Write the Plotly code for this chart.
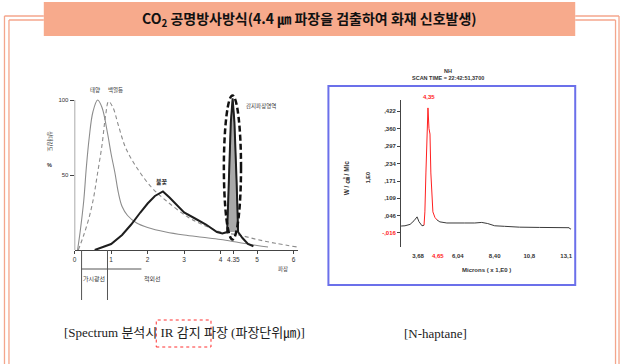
import plotly.graph_objects as go

W, H = 622, 364

# ---------------- data: left chart (emission spectra, wavelength in um) ----------------
sun_x = [0.08, 0.15, 0.25, 0.32, 0.40, 0.50, 0.63, 0.75, 0.90, 1.00, 1.10, 1.20, 1.30, 1.45, 1.70,
         2.00, 2.50, 3.00, 3.50, 4.00, 4.50, 5.00, 5.30]
sun_y = [0, 12, 33, 55, 75, 92, 100, 95, 78, 64, 52, 38, 29, 23, 18,
         15, 12, 10, 8.5, 7, 5, 3, 2]

lamp_x = [0.10, 0.25, 0.40, 0.52, 0.62, 0.75, 0.85, 0.93, 1.05, 1.20, 1.40, 1.70, 2.10, 2.50,
          3.10, 3.50, 4.00, 4.50, 5.00, 5.50, 6.10]
lamp_y = [0, 10, 22, 35, 50, 70, 90, 99, 95, 83, 68, 55, 42, 33,
          22, 17, 12, 10, 7, 4.5, 2]

flame_x = [0.55, 0.80, 1.00, 1.30, 1.55, 1.80, 2.00, 2.20, 2.42, 2.60, 2.80, 3.00, 3.30, 3.60,
           3.90, 4.05, 4.18, 4.22, 4.28, 4.33, 4.38, 4.44, 4.48, 4.60, 4.75, 4.90]
flame_y = [0, 2, 4, 10, 17, 25, 31, 36, 39, 35, 30, 25, 21, 17,
           12, 11, 12, 45, 85, 101, 85, 45, 12, 8, 4, 2.5]

spike_x = [4.18, 4.22, 4.28, 4.33, 4.38, 4.44, 4.48]
spike_y = [12, 45, 85, 101, 85, 45, 12]

left_xticks = [0, 1, 2, 3, 4, 4.35, 5, 6]
left_xlabels = ["0", "1", "2", "3", "4", "4.35", "5", "6"]
left_yticks = [50, 100]
left_ylabels = ["50", "100"]
visible_band = [0.19, 0.90]
ir_band_end = 1.83

# ---------------- data: right chart (N-heptane spectrum) ----------------
spec_x = [0, 2.3, 5.3, 7.6, 9.4, 10.5, 12.3, 13.5, 14.0, 14.6, 15.2, 15.8, 16.4, 17.0, 17.5, 18.1,
          18.7, 19.9, 21.1, 22.8, 26.9, 31.6, 37.4, 43.3, 47.4, 50.9, 55.0, 60.8, 69.6, 81.3,
          93.0, 98.8, 99.4, 100]
spec_y = [0.009, 0.010, 0.015, 0.028, 0.042, 0.025, 0.010, 0.012, 0.060, 0.200, 0.360, 0.434,
          0.360, 0.340, 0.200, 0.100, 0.060, 0.040, 0.031, 0.024, 0.020, 0.021, 0.020, 0.020,
          0.022, 0.018, 0.010, 0.008, 0.005, 0.004, 0.004, 0.003, -0.002, 0.000]
red_from, red_to = 13.5, 21.1

right_yticks = [0.422, 0.360, 0.297, 0.234, 0.171, 0.109, 0.046, -0.016]
right_ylabels = [",422", ",360", ",297", ",234", ",171", ",109", ",046", "-,016"]
right_xticks = [10.0, 21.6, 33.3, 55.0, 75.4, 97.0]
right_xlabels = ["3,68", "4,65", "6,04", "8,40", "10,8", "13,1"]


def px(x):
    return x / W


def py(y):
    return 1 - y / H


SANS = "Liberation Sans, Noto Sans CJK KR, sans-serif"
SERIF = "Liberation Serif, Noto Sans CJK KR, serif"

fig = go.Figure()

# left chart traces
fig.add_trace(go.Scatter(x=spike_x, y=spike_y, fill="toself", fillcolor="#a9a9a9",
                         line=dict(color="#555", width=1), mode="lines", xaxis="x", yaxis="y"))
fig.add_trace(go.Scatter(x=sun_x, y=sun_y, mode="lines", line=dict(color="#8c8c8c", width=1.1, shape="spline"),
                         xaxis="x", yaxis="y"))
fig.add_trace(go.Scatter(x=lamp_x, y=lamp_y, mode="lines",
                         line=dict(color="#8c8c8c", width=1.1, dash="4px,3px", shape="spline"),
                         xaxis="x", yaxis="y"))
fig.add_trace(go.Scatter(x=flame_x, y=flame_y, mode="lines", line=dict(color="#1e1e1e", width=2),
                         xaxis="x", yaxis="y"))

# right chart traces (split into black / red / black)
seg1 = [(x, y) for x, y in zip(spec_x, spec_y) if x <= red_from]
seg2 = [(x, y) for x, y in zip(spec_x, spec_y) if red_from <= x <= red_to]
seg3 = [(x, y) for x, y in zip(spec_x, spec_y) if x >= red_to]
for seg, col in ((seg1, "#3a3a3a"), (seg2, "#ff2020"), (seg3, "#3a3a3a")):
    fig.add_trace(go.Scatter(x=[p[0] for p in seg], y=[p[1] for p in seg], mode="lines",
                             line=dict(color=col, width=1), xaxis="x2", yaxis="y2"))

tickfont = dict(family=SANS, size=6.5, color="#333")

fig.update_layout(
    width=W, height=H, margin=dict(l=0, r=0, t=0, b=0),
    paper_bgcolor="white", plot_bgcolor="rgba(0,0,0,0)", showlegend=False,
    xaxis=dict(domain=[px(73), px(297)], range=[0, 6.11], showgrid=False, zeroline=False,
               showline=True, linecolor="#444", linewidth=1, ticks="outside", ticklen=3,
               tickcolor="#444", tickvals=left_xticks, ticktext=left_xlabels, tickfont=tickfont,
               anchor="y"),
    yaxis=dict(domain=[py(250), py(85)], range=[0, 110], showgrid=False, zeroline=False,
               showline=False, ticks="outside", ticklen=4, tickcolor="#444",
               tickvals=left_yticks, ticktext=left_ylabels, tickfont=dict(family=SANS, size=6, color="#333"),
               anchor="x"),
    xaxis2=dict(domain=[px(401), px(572)], range=[0, 100], showgrid=False, zeroline=False,
                showline=False, ticks="outside", ticklen=3, tickcolor="rgba(0,0,0,0)",
                tickvals=right_xticks,
                ticktext=[f"<b><span style='color:#ff2020'>{t}</span></b>" if i == 1 else f"<b>{t}</b>"
                          for i, t in enumerate(right_xlabels)],
                tickfont=dict(family=SANS, size=6, color="#333"), anchor="y2"),
    yaxis2=dict(domain=[py(247), py(100)], range=[-0.0664, 0.4625], showgrid=False, zeroline=False,
                showline=True, linecolor="#444", linewidth=1, ticks="outside", ticklen=3,
                tickcolor="#444", tickvals=right_yticks,
                ticktext=[f"<b><span style='color:#ff2020'>{t}</span></b>" if t.startswith("-") else f"<b>{t}</b>"
                          for t in right_ylabels],
                tickfont=dict(family=SANS, size=6, color="#333"), anchor="x2"),
)

frame_col = "#f4a68c"
shapes = []
# double frame
def pline(x0, y0, x1, y1, color=frame_col, width=1.3, dash="solid"):
    shapes.append(dict(type="line", xref="paper", yref="paper", x0=px(x0), y0=py(y0), x1=px(x1), y1=py(y1),
                       line=dict(color=color, width=width, dash=dash)))

pline(2.5, 16, 42, 16); pline(7, 20, 42, 20)
pline(576, 16, 620, 16); pline(576, 20, 616.5, 20)
pline(2.5, 16, 2.5, 364); pline(7, 20, 7, 364)
pline(620, 16, 620, 364); pline(616.5, 20, 616.5, 364)

# banner
shapes.append(dict(type="rect", xref="paper", yref="paper", x0=px(42), x1=px(576), y0=py(36), y1=py(2),
                   fillcolor="#f7aa8c", line=dict(width=0), layer="below"))
# right box
shapes.append(dict(type="rect", xref="paper", yref="paper", x0=px(328), x1=px(576), y0=py(285), y1=py(86),
                   line=dict(color="#6b70ea", width=2)))
# left y-axis line (to 100)
shapes.append(dict(type="line", xref="x", yref="y", x0=0, x1=0, y0=0, y1=100,
                   line=dict(color="#444", width=1)))
# detection-region ellipse around spike
shapes.append(dict(type="circle", xref="x", yref="y", x0=min(spike_x) - 0.09, x1=max(spike_x) + 0.08,
                   y0=7, y1=max(spike_y) + 2, line=dict(color="#111", width=2.5, dash="6px,3px")))
# visible / IR markers
for xv in visible_band:
    shapes.append(dict(type="line", xref="x", yref="paper", x0=xv, x1=xv, y0=py(250), y1=py(300),
                       line=dict(color="#555", width=1)))
shapes.append(dict(type="line", xref="x", yref="paper", x0=visible_band[0], x1=ir_band_end,
                   y0=py(269), y1=py(269), line=dict(color="#555", width=1)))
# red dashed box in caption
shapes.append(dict(type="rect", xref="paper", yref="paper", x0=px(155), x1=px(210), y0=py(347), y1=py(320),
                   line=dict(color="#ff3030", width=1, dash="dot")))
fig.update_layout(shapes=shapes)

ann = []
def note(text, x, y, size=6, color="#333", family=SANS, angle=0, bold=False, xanchor="center"):
    ann.append(dict(text=f"<b>{text}</b>" if bold else text, x=px(x), y=py(y), xref="paper", yref="paper",
                    showarrow=False, font=dict(family=family, size=size, color=color), textangle=angle,
                    xanchor=xanchor, yanchor="middle"))

note("CO<sub>2</sub> 공명방사방식(4.4 ㎛ 파장을 검출하여 화재 신호발생)", 309, 19, size=14, color="#111",
     family="Noto Sans CJK KR, sans-serif", bold=True)
note("태양", 93, 90, size=5.5)
note("백열등", 114, 90, size=5.5)
note("불꽃", 161, 182, size=6, bold=True)
note("감지파장영역", 260, 106, size=5.5)
note("파장", 282, 269, size=5.5)
note("가시광선", 92, 279, size=6)
note("적외선", 151, 279, size=6)
note("상대강도", 48, 141, size=5.5, angle=90)
note("%", 48, 165, size=5.5, bold=True)

note("NH", 448, 71, size=5.5, bold=True)
note("SCAN TIME = 22:42:51,3700", 448, 78, size=5.5, bold=True)
note("4,35", 429, 97, size=6, color="#ff2020", bold=True)
note("W / ㎠ / Mic", 346, 178, size=6.5, angle=-90, bold=True)
note("1,E0", 368, 178, size=5.5, angle=-90, bold=True)
note("Microns ( x 1,E0 )", 487, 270, size=6, bold=True)

note("[Spectrum 분석시 IR 감지 파장 (파장단위㎛)]", 183, 333, size=13, color="#222", family=SERIF)
note("[N-haptane]", 436, 333, size=13, color="#222", family=SERIF)
fig.update_layout(annotations=ann)

fig.write_html("out.html", config={"displayModeBar": False},
               post_script="document.body.style.margin='0';document.body.style.overflow='hidden';")
